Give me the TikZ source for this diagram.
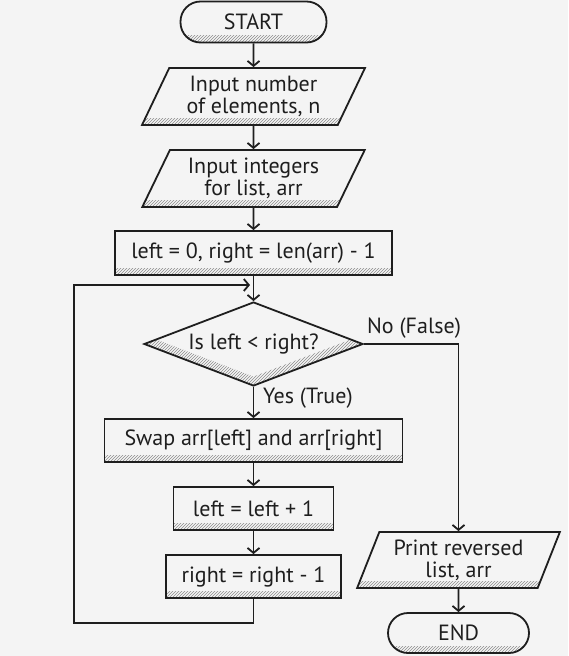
\documentclass[tikz,border=0pt]{standalone}
\usepackage{fontspec}
\setmainfont{PT Sans}
\usetikzlibrary{shapes.geometric,shapes.misc,arrows.meta,patterns}
\definecolor{bg}{RGB}{244,244,244}
\definecolor{ink}{RGB}{30,30,30}
\tikzset{
 hatch/.style={path picture={\fill[sharp corners,pattern=north east lines,pattern color=gray!90] ([yshift=7pt]path picture bounding box.south west) rectangle (path picture bounding box.south east);}},
 dhatch/.style={path picture={\fill[sharp corners,pattern=north east lines,pattern color=gray!90,even odd rule]
   (path picture bounding box.north) -- (path picture bounding box.east) -- (path picture bounding box.south) -- (path picture bounding box.west) -- cycle
   ([yshift=9pt]path picture bounding box.north) -- ([yshift=9pt]path picture bounding box.east) -- ([yshift=9pt]path picture bounding box.south) -- ([yshift=9pt]path picture bounding box.west) -- cycle;}},
 base/.style={draw=ink,line width=1.8pt,inner sep=0pt,align=center,font=\fontsize{22}{22}\selectfont,text=ink},
 proc/.style={base,rectangle,hatch},
 term/.style={base,rectangle,rounded corners=20pt,hatch},
 io/.style={base,trapezium,trapezium left angle=62,trapezium right angle=118,trapezium stretches=true,hatch},
 dec/.style={base,diamond,shape aspect=2.6,dhatch},
 arr/.style={draw=ink,line width=1.8pt,-{Straight Barb[length=5pt,width=12pt]}},
 lab/.style={font=\fontsize{22}{22}\selectfont,text=ink,inner sep=0pt}
}
\begin{document}
\begin{tikzpicture}[x=1pt,y=-1pt]
\fill[bg] (0,0) rectangle (568,656);
\useasboundingbox (0,0) rectangle (568,656);
\node[term,minimum width=146pt,minimum height=41pt] (start) at (253.5,22) {START};
\node[io,minimum width=223pt,minimum height=57pt] (in1) at (253.5,96.5) {Input number\\of elements, n};
\node[io,minimum width=223pt,minimum height=57pt] (in2) at (253.5,178.5) {Input integers\\for list, arr};
\node[proc,minimum width=277pt,minimum height=44pt] (init) at (253.5,253) {left = 0, right = len(arr) - 1};
\node[dec,minimum width=219pt,minimum height=84pt] (dec) at (253.5,344) {Is left < right?};
\node[proc,minimum width=298pt,minimum height=43pt] (swap) at (253.5,440.5) {Swap arr[left] and arr[right]};
\node[proc,minimum width=160pt,minimum height=43pt] (inc) at (253.5,508.5) {left = left + 1};
\node[proc,minimum width=175pt,minimum height=43pt] (dcr) at (253.5,576.5) {right = right - 1};
\node[io,minimum width=203pt,minimum height=56pt,trapezium left angle=66,trapezium right angle=114] (out) at (458.5,560) {Print reversed\\list, arr};
\node[term,minimum width=141pt,minimum height=40pt] (end) at (458.5,633) {END};
\coordinate (lp1) at (74,623);
\coordinate (mg) at (250,285);
\draw[arr] (start) -- (in1);
\draw[arr] (in1) -- (in2);
\draw[arr] (in2) -- (init);
\draw[arr] (init) -- (dec);
\draw[arr] (dec) -- (swap);
\draw[arr] (swap) -- (inc);
\draw[arr] (inc) -- (dcr);
\draw[arr] (dcr.south) |- (lp1) |- (mg);
\draw[arr] (dec.east) -| (out.north);
\draw[arr] (out) -- (end);
\node[lab,anchor=south west] (nolab) at ([xshift=3pt,yshift=5pt]dec.east) {No (False)};
\node[lab,anchor=west] (yeslab) at (263,398) {Yes (True)};
\end{tikzpicture}
\end{document}
